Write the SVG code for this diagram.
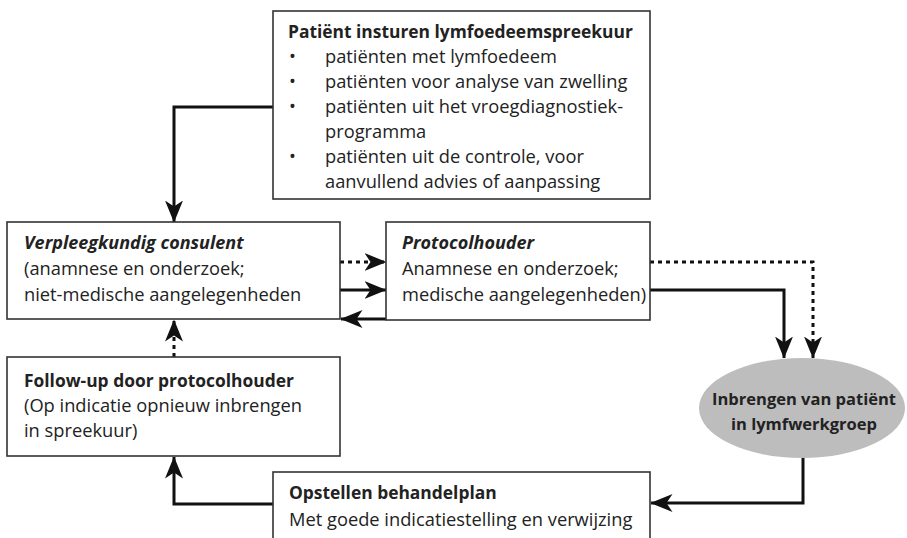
<svg xmlns="http://www.w3.org/2000/svg" width="907" height="538" viewBox="0 0 907 538">
<defs>
<marker id="ah" viewBox="0 0 22 18" refX="21.5" refY="9" markerWidth="22" markerHeight="18" markerUnits="userSpaceOnUse" orient="auto">
<path d="M0,0 L22,9 L0,18 L6,9 z" fill="#111"/>
</marker>
<style>
.box{fill:#fff;stroke:#333;stroke-width:1.6}
.t{font-family:"Open Sans","Noto Sans",sans-serif;font-size:18.3px;fill:#222}
.b{font-weight:bold;font-size:17.4px}
.i{font-style:italic;font-weight:bold;font-size:18px}
.e{font-weight:bold;font-size:16.5px}
.c{fill:none;stroke:#111;stroke-width:3}
.d{stroke-dasharray:4 4}
</style>
</defs>
<rect width="907" height="538" fill="#fff"/>
<g id="connectors">
<path class="c" d="M273,107 H174 V222" marker-end="url(#ah)"/>
<path class="c d" d="M340,262 H386" marker-end="url(#ah)"/>
<path class="c" d="M340,290 H386" marker-end="url(#ah)"/>
<path class="c" d="M386,319 H341" marker-end="url(#ah)"/>
<path class="c d" d="M650,262 H813 V358" marker-end="url(#ah)"/>
<path class="c" d="M650,290 H784 V358" marker-end="url(#ah)"/>
<path class="c d" d="M174,357 V320" marker-end="url(#ah)"/>
<path class="c" d="M803,457 V503 H651" marker-end="url(#ah)"/>
<path class="c" d="M273,504 H174 V457" marker-end="url(#ah)"/>
</g>
<g id="n1">
<rect class="box" x="273" y="11" width="377" height="188"/>
<text class="t b" x="288" y="38">Patiënt insturen lymfoedeemspreekuur</text>
<text class="t" x="289" y="63">•</text><text class="t" x="325" y="63">patiënten met lymfoedeem</text>
<text class="t" x="289" y="88">•</text><text class="t" x="325" y="88">patiënten voor analyse van zwelling</text>
<text class="t" x="289" y="113">•</text><text class="t" x="325" y="113">patiënten uit het vroegdiagnostiek-</text>
<text class="t" x="325" y="138">programma</text>
<text class="t" x="289" y="163">•</text><text class="t" x="325" y="163">patiënten uit de controle, voor</text>
<text class="t" x="325" y="188">aanvullend advies of aanpassing</text>
</g>
<g id="n2">
<rect class="box" x="7" y="222" width="333" height="97"/>
<text class="t i" x="24" y="249">Verpleegkundig consulent</text>
<text class="t" x="24" y="275">(anamnese en onderzoek;</text>
<text class="t" x="24" y="301">niet-medische aangelegenheden</text>
</g>
<g id="n3">
<rect class="box" x="386" y="222" width="264" height="98"/>
<text class="t i" x="402" y="249">Protocolhouder</text>
<text class="t" x="402" y="275">Anamnese en onderzoek;</text>
<text class="t" x="402" y="301">medische aangelegenheden)</text>
</g>
<g id="n4">
<rect class="box" x="7" y="357" width="333" height="99"/>
<text class="t b" x="24" y="387">Follow-up door protocolhouder</text>
<text class="t" x="24" y="412">(Op indicatie opnieuw inbrengen</text>
<text class="t" x="24" y="437">in spreekuur)</text>
</g>
<g id="n5">
<ellipse cx="802" cy="408" rx="103" ry="50" fill="#bdbdbd"/>
<text class="t e" x="804" y="405" text-anchor="middle">Inbrengen van patiënt</text>
<text class="t e" x="804" y="430" text-anchor="middle">in lymfwerkgroep</text>
</g>
<g id="n6">
<rect class="box" x="273" y="472" width="377" height="70"/>
<text class="t b" x="289" y="499">Opstellen behandelplan</text>
<text class="t" x="289" y="526">Met goede indicatiestelling en verwijzing</text>
</g>
</svg>
